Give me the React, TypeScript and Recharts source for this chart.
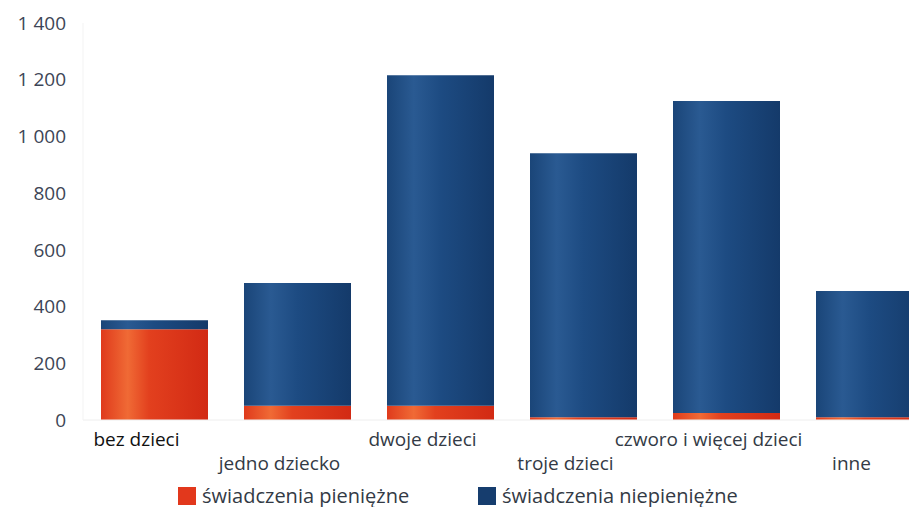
import React from 'react';
import { BarChart, Bar, XAxis, YAxis, Legend } from 'recharts';

const categories = ['bez dzieci', 'jedno dziecko', 'dwoje dzieci', 'troje dzieci', 'czworo i więcej dzieci', 'inne'];
const cashBenefits = [320, 50, 50, 10, 25, 10];
const inKindBenefits = [32, 433, 1166, 931, 1100, 445];
const yTicks = [0, 200, 400, 600, 800, 1000, 1200, 1400];
const seriesNames = ['świadczenia pieniężne', 'świadczenia niepieniężne'];

const data = categories.map((name, i) => ({
  name,
  cash: cashBenefits[i],
  inKind: inKindBenefits[i],
}));

const FONT = '"Open Sans", "Noto Sans", sans-serif';
const RED = '#e2381c';

const fmt = (v: number) => String(v).replace(/\B(?=(\d{3})+(?!\d))/g, ' ');

// labels alternate between two rows so the long ones don't collide
function StaggerTick(props: any) {
  const { x, y, payload, index } = props;
  const low = index % 2 === 1;
  return (
    <text
      x={x - 18}
      y={y + (low ? 42 : 18)}
      textAnchor="middle"
      fill={index === 0 ? '#111' : '#333a45'}
      fontSize={19}
      fontFamily={FONT}
    >
      {payload.value}
    </text>
  );
}

function LegendBox() {
  const item = (left: number, color: string, label: string) => (
    <div style={{ position: 'absolute', left, top: 0, height: 52, display: 'flex', alignItems: 'center' }}>
      <span style={{ width: 18, height: 18, background: color, display: 'inline-block', marginRight: 6 }} />
      <span style={{ fontSize: 20, color: '#333a45', fontFamily: FONT, lineHeight: '20px' }}>{label}</span>
    </div>
  );
  return (
    <div style={{ position: 'relative', height: 45, width: 941 }}>
      {item(178, RED, seriesNames[0])}
      {item(478, '#163d6e', seriesNames[1])}
    </div>
  );
}

export default function App() {
  return (
    <div style={{ margin: -8, width: 917, height: 515, overflow: 'hidden', background: '#fff' }}>
      <BarChart
        width={941}
        height={515}
        data={data}
        margin={{ top: 23, right: 0, left: 13, bottom: 0 }}
      >
        <defs>
          <linearGradient id="gRed" x1="0" y1="0" x2="1" y2="0">
            <stop offset="0%" stopColor="#df3a1c" />
            <stop offset="25%" stopColor="#f06a35" />
            <stop offset="45%" stopColor="#e2401e" />
            <stop offset="100%" stopColor="#d22a14" />
          </linearGradient>
          <linearGradient id="gBlue" x1="0" y1="0" x2="1" y2="0">
            <stop offset="0%" stopColor="#1a4578" />
            <stop offset="25%" stopColor="#2a5a92" />
            <stop offset="50%" stopColor="#1d4b82" />
            <stop offset="100%" stopColor="#143a6a" />
          </linearGradient>
        </defs>
        <XAxis
          dataKey="name"
          interval={0}
          height={50}
          tickLine={false}
          axisLine={{ stroke: '#eeeeee' }}
          tick={<StaggerTick />}
        />
        <YAxis
          width={70}
          domain={[0, 1400]}
          ticks={yTicks}
          tickFormatter={fmt}
          tickLine={false}
          axisLine={{ stroke: '#f3f3f3' }}
          tick={{ fontSize: 19, fill: '#3d4556', fontFamily: FONT }}
          tickMargin={11}
        />
        <Legend
          verticalAlign="bottom"
          height={45}
          wrapperStyle={{ left: 0, width: 941, top: 470, bottom: 'auto' }}
          content={<LegendBox />}
        />
        <Bar dataKey="cash" name={seriesNames[0]} stackId="a" fill="url(#gRed)" barSize={107} isAnimationActive={false} />
        <Bar dataKey="inKind" name={seriesNames[1]} stackId="a" fill="url(#gBlue)" barSize={107} isAnimationActive={false} />
      </BarChart>
    </div>
  );
}
